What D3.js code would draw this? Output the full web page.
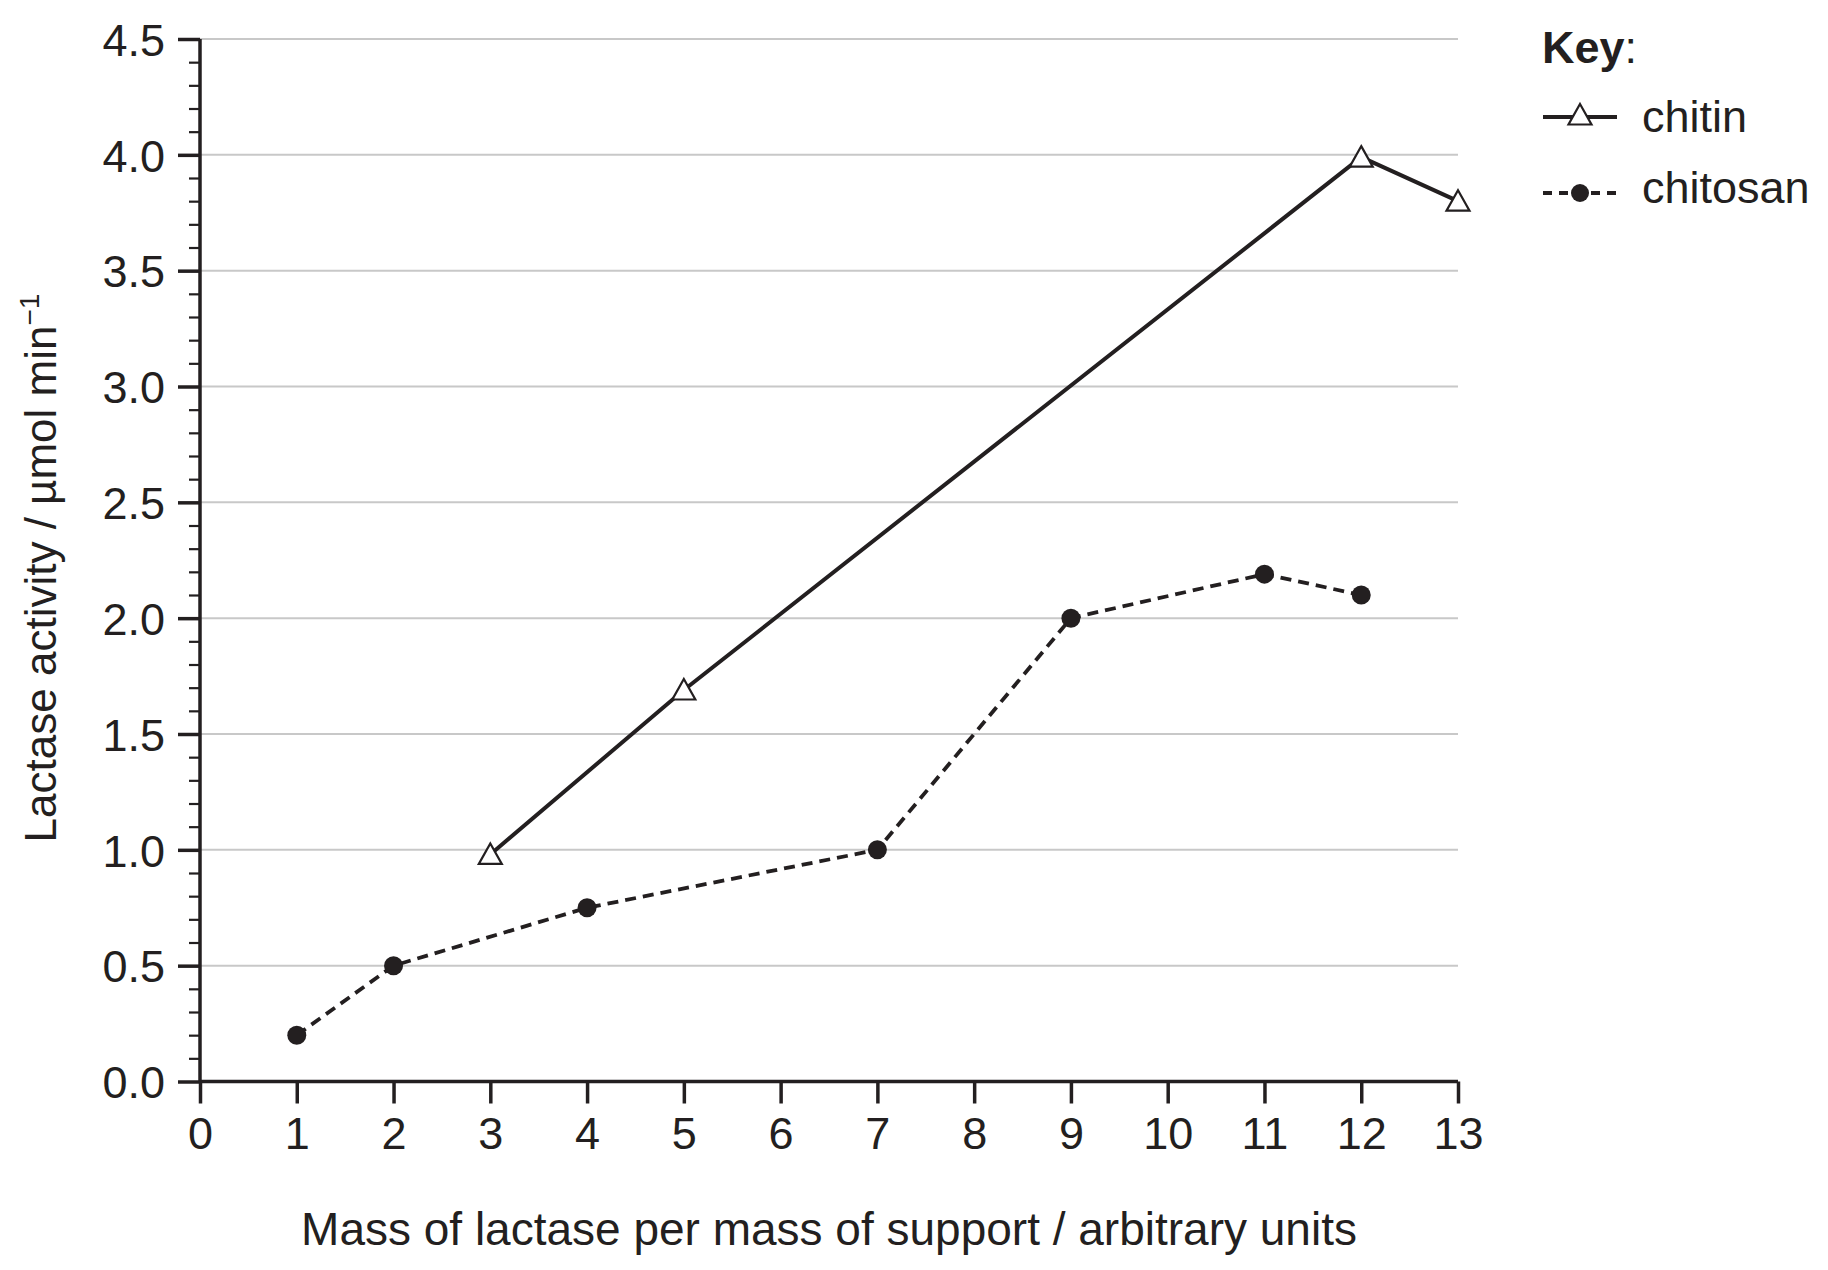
<!DOCTYPE html>
<html>
<head>
<meta charset="utf-8">
<script src="https://cdn.jsdelivr.net/npm/d3@7"></script>
<style>
  html, body { margin: 0; padding: 0; background: #fff; }
  svg { display: block; }
  text { font-family: "Liberation Sans", Arial, sans-serif; fill: #231f20; }
</style>
</head>
<body>
<svg id="chart" width="1828" height="1270"></svg>
<script>
// ---- data ----
const xTicks = [0,1,2,3,4,5,6,7,8,9,10,11,12,13];
const yTicks = [0.0,0.5,1.0,1.5,2.0,2.5,3.0,3.5,4.0,4.5];
const chitinX = [3, 5, 12, 13];
const chitinY = [0.98, 1.69, 3.99, 3.80];
const chitosanX = [1, 2, 4, 7, 9, 11, 12];
const chitosanY = [0.20, 0.50, 0.75, 1.00, 2.00, 2.19, 2.10];
const seriesNames = ["chitin", "chitosan"];
const xTitle = "Mass of lactase per mass of support / arbitrary units";
const yTitle = "Lactase activity / µmol min";

const ink = "#231f20";
const fs = 45;
const svg = d3.select("#chart");

const x = d3.scaleLinear().domain([0, 13]).range([200, 1458]);
const y = d3.scaleLinear().domain([0, 4.5]).range([1081.5, 39]);

// gridlines
svg.append("g").selectAll("line").data(yTicks.filter(d => d > 0)).join("line")
  .attr("x1", x(0)).attr("x2", x(13))
  .attr("y1", d => y(d)).attr("y2", d => y(d))
  .attr("stroke", "#c8c8c8").attr("stroke-width", 2);

// minor y ticks
const minor = d3.range(0, 46).map(i => i / 10).filter(v => Math.round(v * 10) % 5 !== 0);
svg.append("g")
  .attr("transform", `translate(${x(0)},0)`)
  .call(d3.axisLeft(y).tickValues(minor).tickSize(11).tickFormat(""))
  .call(g => g.select(".domain").remove())
  .call(g => g.selectAll("line").attr("stroke", ink).attr("stroke-width", 2.2));

// major y axis
svg.append("g")
  .attr("transform", `translate(${x(0)},0)`)
  .call(d3.axisLeft(y).tickValues(yTicks).tickSize(22).tickPadding(13).tickFormat(d3.format(".1f")))
  .call(g => g.select(".domain").attr("stroke", ink).attr("stroke-width", 3.5).attr("d", `M0,${y(4.5)}V${y(0)}`))
  .call(g => g.selectAll("line").attr("stroke", ink).attr("stroke-width", 3.5))
  .call(g => g.selectAll("text").attr("font-size", fs).attr("fill", ink)
     .attr("font-family", "Liberation Sans, Arial, sans-serif").attr("dy", "0.36em"));

// x axis
svg.append("g")
  .attr("transform", `translate(0,${y(0)})`)
  .call(d3.axisBottom(x).tickValues(xTicks).tickSize(22).tickPadding(14).tickFormat(d3.format("d")))
  .call(g => g.select(".domain").attr("stroke", ink).attr("stroke-width", 3.5).attr("d", `M${x(0)},0H${x(13)}`))
  .call(g => g.selectAll("line").attr("stroke", ink).attr("stroke-width", 3.5))
  .call(g => g.selectAll("text").attr("font-size", fs).attr("fill", ink)
     .attr("font-family", "Liberation Sans, Arial, sans-serif"));

// axis titles
svg.append("text")
  .attr("x", (x(0) + x(13)) / 2).attr("y", 1245)
  .attr("text-anchor", "middle").attr("font-size", 46)
  .text(xTitle);

const yt = svg.append("text")
  .attr("transform", `translate(56,568) rotate(-90)`)
  .attr("text-anchor", "middle").attr("font-size", 44);
yt.append("tspan").text(yTitle);
yt.append("tspan").attr("dy", -17).attr("font-size", 28).text("−1");

// lines
const chitin = chitinX.map((d, i) => [d, chitinY[i]]);
const chitosan = chitosanX.map((d, i) => [d, chitosanY[i]]);
const line = d3.line().x(d => x(d[0])).y(d => y(d[1]));

svg.append("path").datum(chitin).attr("d", line)
  .attr("fill", "none").attr("stroke", ink).attr("stroke-width", 4);
svg.append("path").datum(chitosan).attr("d", line)
  .attr("fill", "none").attr("stroke", ink).attr("stroke-width", 3.8)
  .attr("stroke-dasharray", "11,7");

const tri = "M0,-11 L11.5,9.5 L-11.5,9.5 Z";
svg.append("g").selectAll("path").data(chitin).join("path")
  .attr("d", tri)
  .attr("transform", d => `translate(${x(d[0])},${y(d[1])})`)
  .attr("fill", "#fff").attr("stroke", ink).attr("stroke-width", 2.2);

svg.append("g").selectAll("circle").data(chitosan).join("circle")
  .attr("cx", d => x(d[0])).attr("cy", d => y(d[1])).attr("r", 9.5)
  .attr("fill", ink);

// legend
const key = svg.append("text").attr("x", 1542).attr("y", 63).attr("font-size", fs);
key.append("tspan").attr("font-weight", "bold").text("Key");
key.append("tspan").text(":");

const lg = svg.append("g");
lg.append("line").attr("x1", 1543).attr("x2", 1617).attr("y1", 117).attr("y2", 117)
  .attr("stroke", ink).attr("stroke-width", 4);
lg.append("path").attr("d", tri).attr("transform", "translate(1580,115)")
  .attr("fill", "#fff").attr("stroke", ink).attr("stroke-width", 2.2);
lg.append("text").attr("x", 1642).attr("y", 132).attr("font-size", fs).text(seriesNames[0]);

lg.append("line").attr("x1", 1543).attr("x2", 1617).attr("y1", 193).attr("y2", 193)
  .attr("stroke", ink).attr("stroke-width", 3.8).attr("stroke-dasharray", "9,7");
lg.append("circle").attr("cx", 1580).attr("cy", 193).attr("r", 9).attr("fill", ink);
lg.append("text").attr("x", 1642).attr("y", 203).attr("font-size", fs).text(seriesNames[1]);
</script>
</body>
</html>
